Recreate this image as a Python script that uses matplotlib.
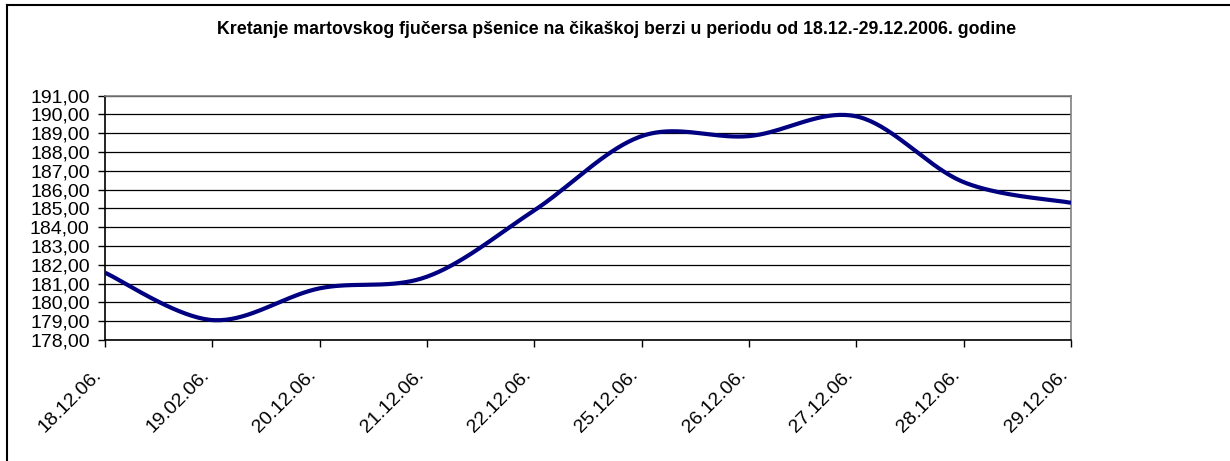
import numpy as np
import matplotlib
matplotlib.use("Agg")
import matplotlib.pyplot as plt
from matplotlib.ticker import FixedLocator, FuncFormatter
from matplotlib.lines import Line2D

title = "Kretanje martovskog fjučersa pšenice na čikaškoj berzi u periodu od 18.12.-29.12.2006. godine"
dates = ["18.12.06.", "19.02.06.", "20.12.06.", "21.12.06.", "22.12.06.",
         "25.12.06.", "26.12.06.", "27.12.06.", "28.12.06.", "29.12.06."]
prices = [181.58, 179.06, 180.75, 181.37, 184.90, 188.85, 188.85, 189.90, 186.40, 185.30]
y_ticks = list(range(178, 192))

plt.rcParams['font.family'] = ['Liberation Sans', 'DejaVu Sans']

fig = plt.figure(figsize=(12.3, 4.61), dpi=100)
ax = fig.add_axes([105 / 1230, 1 - 340 / 461, (1071 - 105) / 1230, (340 - 95.7) / 461])

# Excel-style smoothed line (cubic Bezier through the data points)
x = np.arange(len(prices), dtype=float)
y = np.array(prices, dtype=float)
P = np.column_stack([x, y])
curve = []
t = np.linspace(0, 1, 40)
for i in range(len(P) - 1):
    p0 = P[i - 1] if i > 0 else P[i]
    p1 = P[i]
    p2 = P[i + 1]
    p3 = P[i + 2] if i + 2 < len(P) else P[i + 1]
    c1 = p1 + (p2 - p0) / 6
    c2 = p2 - (p3 - p1) / 6
    seg = ((1 - t)[:, None] ** 3 * p1 + 3 * ((1 - t) ** 2 * t)[:, None] * c1
           + 3 * ((1 - t) * t ** 2)[:, None] * c2 + (t ** 3)[:, None] * p2)
    curve.append(seg if i == 0 else seg[1:])
curve = np.vstack(curve)
ax.plot(curve[:, 0], curve[:, 1], color='#000080', lw=3.0, solid_capstyle='butt', zorder=3)

ax.set_xlim(0, len(dates) - 1)
ax.set_ylim(178, 191)
ax.yaxis.set_major_locator(FixedLocator(y_ticks))
ax.yaxis.set_major_formatter(FuncFormatter(lambda v, p: f"{v:.2f}".replace('.', ',')))
ax.set_xticks(x)
ax.set_xticklabels(dates, rotation=45, ha='right', va='top', fontsize=14)
ax.tick_params(axis='x', direction='out', length=5, width=1, color='black', pad=14)
ax.tick_params(axis='y', direction='out', length=5, width=1, color='black', labelsize=14, pad=6)
ax.grid(axis='y', color='black', lw=0.9)
ax.set_axisbelow(True)
for s in ['top', 'right']:
    ax.spines[s].set_color('#808080')
    ax.spines[s].set_linewidth(1.2)
for s in ['left', 'bottom']:
    ax.spines[s].set_color('black')
    ax.spines[s].set_linewidth(1.2)

fig.text(617 / 1230, 1 - 30 / 461, title, ha='center', va='center', fontsize=12.8, fontweight='bold')

# outer chart frame (top and left edges visible)
fig.add_artist(Line2D([7 / 1230, 1.0], [1 - 5 / 461, 1 - 5 / 461], transform=fig.transFigure, color='black', lw=1.5))
fig.add_artist(Line2D([7 / 1230, 7 / 1230], [0, 1 - 5 / 461], transform=fig.transFigure, color='black', lw=1.5))

fig.savefig("out.png", dpi=100)
